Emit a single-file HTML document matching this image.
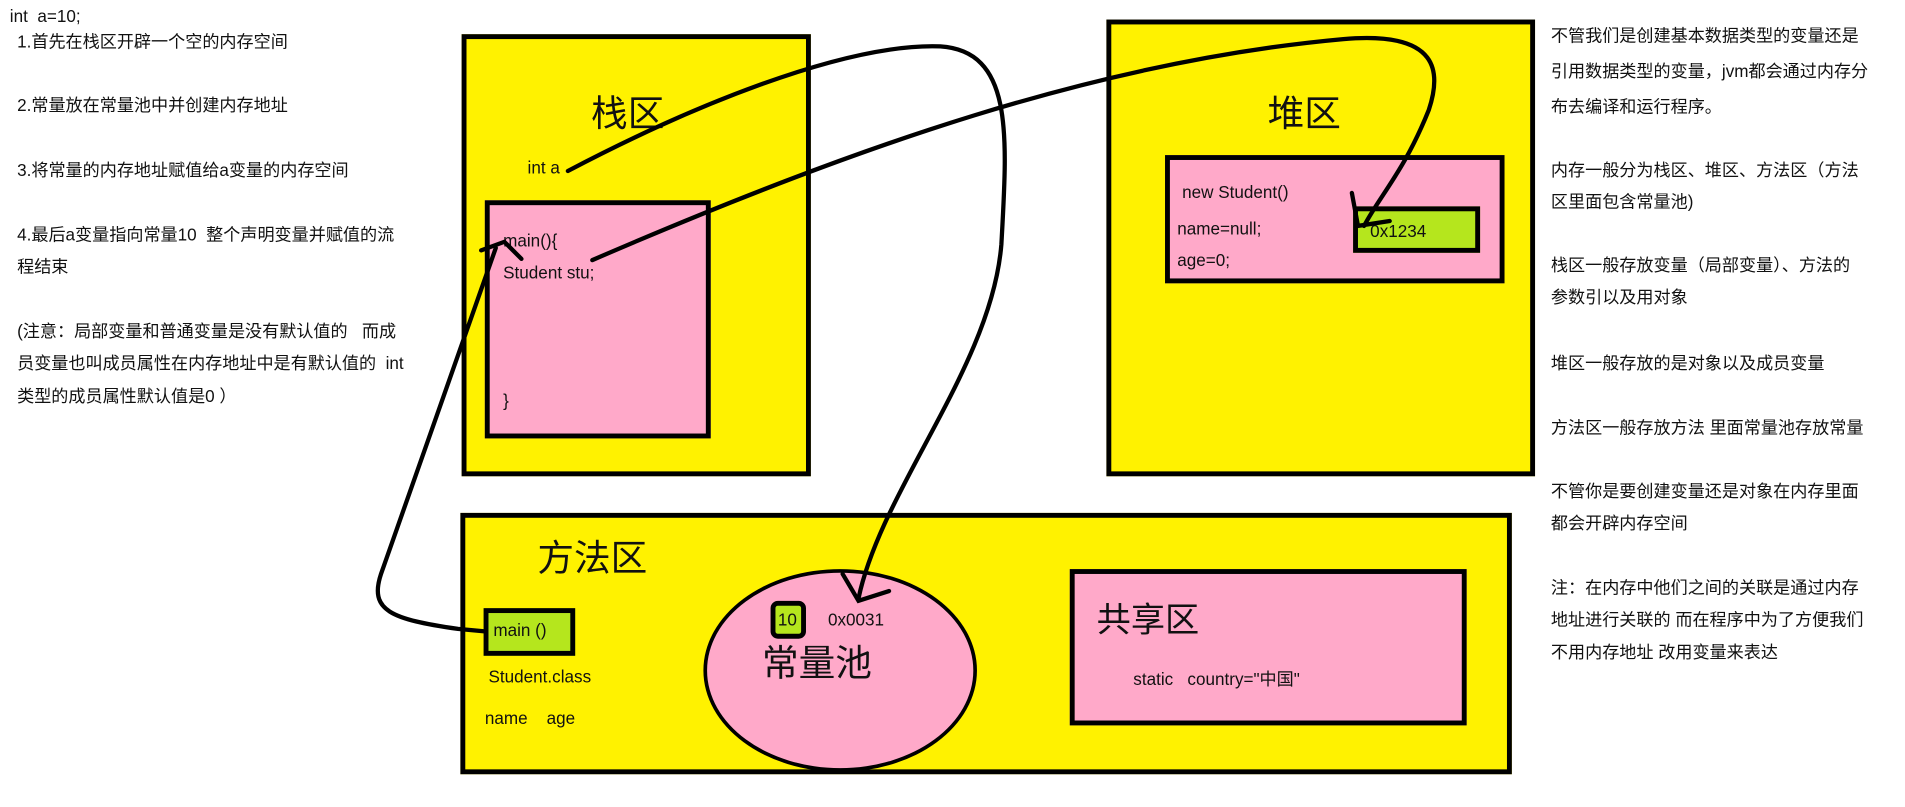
<!DOCTYPE html>
<html><head><meta charset="utf-8"><style>
html,body{margin:0;padding:0;background:#fff;width:1905px;height:807px;overflow:hidden}
#w{position:absolute;left:0;top:0;width:1560px;height:661px;transform:scale(1.2212);transform-origin:0 0;font-family:"Liberation Sans","Noto Sans CJK SC",sans-serif;color:#111}
.b{position:absolute;box-sizing:border-box;border:4px solid #000}
.y{background:#FFF200}.p{background:#FFA9C9}.g{background:#B5E61D}
.t{position:absolute;white-space:nowrap;font-size:14px;line-height:16px}
.big{font-size:30px;line-height:32px}
.r{position:absolute;left:1270px;font-size:14px;white-space:nowrap;line-height:16px}
svg{position:absolute;left:0;top:0}
</style></head><body><div id="w">
<div class="t" style="left:8px;top:5px">int&nbsp; a=10;</div>
<div class="t" style="left:14px;top:26px">1.首先在栈区开辟一个空的内存空间</div>
<div class="t" style="left:14px;top:78px">2.常量放在常量池中并创建内存地址</div>
<div class="t" style="left:14px;top:131px">3.将常量的内存地址赋值给a变量的内存空间</div>
<div class="t" style="left:14px;top:184px">4.最后a变量指向常量10&nbsp; 整个声明变量并赋值的流</div>
<div class="t" style="left:14px;top:210px">程结束</div>
<div class="t" style="left:14px;top:263px">(注意：局部变量和普通变量是没有默认值的&nbsp;&nbsp; 而成</div>
<div class="t" style="left:14px;top:289px">员变量也叫成员属性在内存地址中是有默认值的&nbsp; int</div>
<div class="t" style="left:14px;top:316px">类型的成员属性默认值是0 ）</div>

<div class="b y" style="left:378px;top:28px;width:286px;height:362px"></div>
<div class="t big" style="left:484px;top:78px">栈区</div>
<div class="t" style="left:432px;top:129px">int a</div>
<div class="b p" style="left:397px;top:164px;width:185px;height:195px"></div>
<div class="t" style="left:412px;top:189px">main(){</div>
<div class="t" style="left:412px;top:215px">Student stu;</div>
<div class="t" style="left:412px;top:320px">}</div>

<div class="b y" style="left:906px;top:16px;width:351px;height:374px"></div>
<div class="t big" style="left:1038px;top:78px">堆区</div>
<div class="b p" style="left:954px;top:127px;width:278px;height:105px"></div>
<div class="t" style="left:968px;top:149px">new Student()</div>
<div class="t" style="left:964px;top:179px">name=null;</div>
<div class="t" style="left:964px;top:205px">age=0;</div>
<div class="b g" style="left:1108px;top:169px;width:104px;height:38px"></div>
<div class="t" style="left:1122px;top:181px">0x1234</div>

<div class="b y" style="left:377px;top:420px;width:861px;height:214px"></div>
<div class="t big" style="left:440px;top:442px">方法区</div>
<div class="b g" style="left:396px;top:498px;width:75px;height:39px"></div>
<div class="t" style="left:404px;top:508px">main ()</div>
<div class="t" style="left:400px;top:546px">Student.class</div>
<div class="t" style="left:397px;top:580px">name&nbsp;&nbsp;&nbsp; age</div>
<div style="position:absolute;left:576px;top:466px;width:224px;height:166px;box-sizing:border-box;border:3px solid #000;border-radius:50%;background:#FFA9C9"></div>
<div style="position:absolute;left:631px;top:492px;width:29px;height:31px;box-sizing:border-box;border:4px solid #000;border-radius:6px;background:#B5E61D"></div>
<div class="t" style="left:637px;top:499px">10</div>
<div class="t" style="left:678px;top:499px">0x0031</div>
<div class="t big" style="left:624px;top:528px">常量池</div>
<div class="b p" style="left:876px;top:466px;width:325px;height:128px"></div>
<div class="t" style="left:898px;top:493px;font-size:28px;line-height:30px">共享区</div>
<div class="t" style="left:928px;top:548px">static&nbsp;&nbsp; country="中国"</div>

<div class="r" style="top:21px">不管我们是创建基本数据类型的变量还是</div>
<div class="r" style="top:50px">引用数据类型的变量，jvm都会通过内存分</div>
<div class="r" style="top:79px">布去编译和运行程序。</div>
<div class="r" style="top:131px">内存一般分为栈区、堆区、方法区（方法</div>
<div class="r" style="top:157px">区里面包含常量池)</div>
<div class="r" style="top:209px">栈区一般存放变量（局部变量）、方法的</div>
<div class="r" style="top:235px">参数引以及用对象</div>
<div class="r" style="top:289px">堆区一般存放的是对象以及成员变量</div>
<div class="r" style="top:342px">方法区一般存放方法 里面常量池存放常量</div>
<div class="r" style="top:394px">不管你是要创建变量还是对象在内存里面</div>
<div class="r" style="top:420px">都会开辟内存空间</div>
<div class="r" style="top:473px">注：在内存中他们之间的关联是通过内存</div>
<div class="r" style="top:499px">地址进行关联的 而在程序中为了方便我们</div>
<div class="r" style="top:526px">不用内存地址 改用变量来表达</div>

<svg width="1560" height="661" fill="none" stroke="#000" stroke-width="3.5" stroke-linecap="round">
<path d="M465,140 C560,90 690,35 770,38 C830,42 825,110 820,200 C812,300 722,400 703,490"/>
<path d="M690,470 L703,492 L728,484"/>
<path d="M485,213 C700,120 900,50 1100,32 C1180,25 1180,60 1170,90 C1150,140 1130,160 1117,185"/>
<path d="M1107,158 L1112,185 L1138,181"/>
<path d="M397,517 L375,515 C320,507 302,500 312,470 L406,203"/>
<path d="M394,205 L413,198 L427,212"/>
</svg>
</div></body></html>
